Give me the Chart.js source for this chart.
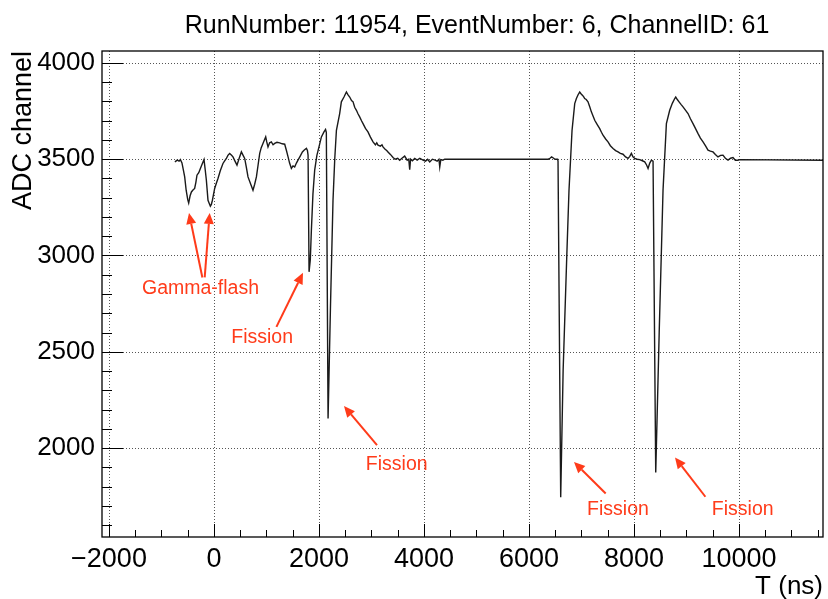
<!DOCTYPE html>
<html lang="en">
  <head>
    <meta charset="UTF-8" />
    <script src="https://cdn.jsdelivr.net/npm/chart.js@4.4.0/dist/chart.umd.min.js"></script>
    <title>ADC waveform</title>
    <style>
      html, body { margin: 0; background: #fff; }
    </style>
  </head>
  <body>
    <canvas id="myChart" width="828" height="599"></canvas>

    <script>
      // waveform (T in ns, ADC channel)
      const timeNs = [
        -745, -700, -665, -640, -610, -580, -558, -530, -500, -482, -455, -430, -400, -368, -345, -324,
        -290, -259, -225, -190, -165, -145, -114, -90, -69, -50, -30, 13, 45, 76, 120, 171, 200, 236,
        265, 299, 330, 362, 400, 438, 480, 522, 555, 585, 615, 648, 700, 743, 775, 808, 840, 871, 900,
        933, 960, 985, 1005, 1029, 1060, 1093, 1125, 1156, 1200, 1251, 1300, 1347, 1380, 1411, 1440,
        1474, 1505, 1537, 1570, 1600, 1640, 1684, 1720, 1760, 1780, 1792, 1811, 1835, 1855, 1885, 1918,
        1960, 2000, 2046, 2095, 2125, 2140, 2173, 2220, 2267, 2300, 2332, 2394, 2426, 2476, 2522, 2550,
        2585, 2620, 2649, 2680, 2713, 2745, 2775, 2810, 2839, 2885, 2933, 2980, 3029, 3075, 3100, 3124,
        3170, 3200, 3219, 3260, 3290, 3314, 3360, 3410, 3450, 3500, 3537, 3580, 3632, 3680, 3710, 3728,
        3745, 3780, 3823, 3870, 3920, 3981, 4030, 4070, 4109, 4160, 4210, 4250, 4285, 4300, 4320, 4360,
        4394, 6368, 6400, 6431, 6470, 6494, 6545, 6553, 6604, 6650, 6720, 6762, 6820, 6871, 6903, 6935,
        6966, 6990, 7017, 7040, 7061, 7090, 7124, 7160, 7188, 7220, 7252, 7300, 7347, 7380, 7410, 7460,
        7505, 7550, 7601, 7650, 7696, 7740, 7791, 7840, 7887, 7920, 7950, 7980, 8014, 8060, 8109, 8160,
        8204, 8240, 8268, 8300, 8331, 8363, 8414, 8480, 8553, 8617, 8680, 8730, 8776, 8795, 8825, 8858,
        8895, 8934, 8980, 9029, 9075, 9124, 9170, 9220, 9265, 9315, 9360, 9410, 9455, 9505, 9550, 9600,
        9650, 9695, 9740, 9791, 9840, 9886, 9930, 9981, 10010, 11600
      ];
      const adc = [
        3486, 3495, 3490, 3498, 3481, 3440, 3408, 3339, 3290, 3273, 3310, 3330, 3340, 3348, 3380, 3417,
        3430, 3452, 3475, 3498, 3440, 3391, 3287, 3270, 3256, 3265, 3287, 3348, 3375, 3400, 3440, 3478, 3490, 3504,
        3520, 3530, 3522, 3512, 3490, 3469, 3505, 3538, 3520, 3504, 3460, 3408, 3370, 3339, 3370, 3408, 3470, 3530, 3560,
        3582, 3600, 3616, 3590, 3564, 3585, 3590, 3575, 3582, 3588, 3585, 3580, 3578, 3545, 3512, 3480,
        3452, 3465, 3460, 3480, 3495, 3515, 3538, 3548, 3556, 3545, 3521, 2915, 2980, 3131, 3320, 3443,
        3520, 3564, 3616, 3642, 3655, 3640, 2154, 2750, 3287, 3500, 3650, 3737, 3798, 3823, 3849, 3835,
        3823, 3805, 3798, 3770, 3754, 3735, 3720, 3700, 3685, 3660, 3642, 3615, 3590, 3575, 3585, 3573,
        3568, 3575, 3564, 3552, 3545, 3538, 3525, 3509, 3500, 3505, 3495, 3505, 3516, 3495, 3500, 3445,
        3500, 3492, 3504, 3495, 3505, 3495, 3490, 3500, 3486, 3500, 3495, 3490, 3500, 3460, 3498, 3495,
        3500, 3500, 3505, 3512, 3505, 3500, 3500, 3490, 1744, 2400, 3000, 3339, 3650, 3789, 3815, 3835,
        3849, 3840, 3832, 3825, 3815, 3810, 3798, 3770, 3746, 3725, 3702, 3680, 3659, 3640, 3625, 3605,
        3590, 3570, 3556, 3545, 3538, 3530, 3526, 3512, 3504, 3515, 3530, 3512, 3504, 3500, 3498, 3492,
        3486, 3470, 3452, 3480, 3495, 3490, 1873, 2600, 3339, 3685, 3754, 3790, 3815, 3823, 3810, 3798,
        3785, 3772, 3755, 3737, 3710, 3685, 3660, 3633, 3610, 3590, 3570, 3547, 3542, 3538, 3525, 3512,
        3520, 3521, 3505, 3495, 3505, 3509, 3495, 3495, 3498, 3495
      ];

      const xTicks = [-2000, 0, 2000, 4000, 6000, 8000, 10000];
      const yTicks = [2000, 2500, 3000, 3500, 4000];

      // red arrows (tip -> tail) and notes, in data units
      const arrowTipX = [-476, -82, 1695, 2476, 6857, 8781];
      const arrowTipY = [3221, 3221, 2910, 2218, 1928, 1951];
      const arrowTailX = [-221, -177, 1189, 3105, 7461, 9360];
      const arrowTailY = [2886, 2886, 2629, 2015, 1764, 1747];
      const noteText = ["Gamma-flash", "Fission", "Fission", "Fission", "Fission"];
      const noteX = [-257, 918, 3480, 7695, 10071];
      const noteY = [2799, 2543, 1885, 1652, 1652];

      const FONT = '"Liberation Sans", Arial, Helvetica, sans-serif';
      const RED = "#ff3b1a";

      const rootFrame = {
        id: "rootFrame",
        beforeDatasetsDraw(chart) {
          const { ctx, chartArea: a, scales: { x, y } } = chart;
          ctx.save();
          ctx.strokeStyle = "#555";
          ctx.lineWidth = 1;
          ctx.setLineDash([1, 2]);
          ctx.beginPath();
          xTicks.forEach((v) => {
            const px = Math.round(x.getPixelForValue(v)) + 0.5;
            ctx.moveTo(px, a.top);
            ctx.lineTo(px, a.bottom);
          });
          yTicks.forEach((v) => {
            const py = Math.round(y.getPixelForValue(v)) + 0.5;
            ctx.moveTo(a.left, py);
            ctx.lineTo(a.right, py);
          });
          ctx.stroke();
          ctx.restore();
        },
        afterDatasetsDraw(chart) {
          const { ctx, chartArea: a, scales: { x, y } } = chart;
          ctx.save();
          // frame
          ctx.strokeStyle = "#000";
          ctx.lineWidth = 1.3;
          ctx.strokeRect(a.left, a.top, a.right - a.left, a.bottom - a.top);

          // ticks, drawn inside the frame
          ctx.lineWidth = 1;
          ctx.beginPath();
          for (let v = -2000; v <= x.max; v += 500) {
            const px = Math.round(x.getPixelForValue(v)) + 0.5;
            const len = v % 2000 === 0 ? 13 : 7;
            ctx.moveTo(px, a.bottom);
            ctx.lineTo(px, a.bottom - len);
          }
          for (let v = 1600; v <= y.max; v += 100) {
            const py = Math.round(y.getPixelForValue(v)) + 0.5;
            const len = v % 500 === 0 ? 21 : 10;
            ctx.moveTo(a.left, py);
            ctx.lineTo(a.left + len, py);
          }
          ctx.stroke();

          // annotation arrows
          ctx.strokeStyle = RED;
          ctx.fillStyle = RED;
          ctx.lineWidth = 2;
          arrowTipX.forEach((tx, i) => {
            const x1 = x.getPixelForValue(arrowTailX[i]);
            const y1 = y.getPixelForValue(arrowTailY[i]);
            const x2 = x.getPixelForValue(tx);
            const y2 = y.getPixelForValue(arrowTipY[i]);
            const ang = Math.atan2(y2 - y1, x2 - x1);
            const head = 11;
            const bx = x2 - head * Math.cos(ang);
            const by = y2 - head * Math.sin(ang);
            ctx.beginPath();
            ctx.moveTo(x1, y1);
            ctx.lineTo(bx, by);
            ctx.stroke();
            ctx.beginPath();
            ctx.moveTo(x2, y2);
            ctx.lineTo(bx + 5 * Math.sin(ang), by - 5 * Math.cos(ang));
            ctx.lineTo(bx - 5 * Math.sin(ang), by + 5 * Math.cos(ang));
            ctx.closePath();
            ctx.fill();
          });
          ctx.font = "19.5px " + FONT;
          ctx.textAlign = "center";
          ctx.textBaseline = "alphabetic";
          noteText.forEach((t, i) => {
            ctx.fillText(t, x.getPixelForValue(noteX[i]), y.getPixelForValue(noteY[i]));
          });

          // title and axis titles
          ctx.fillStyle = "#000";
          ctx.font = "25px " + FONT;
          ctx.fillText("RunNumber: 11954, EventNumber: 6, ChannelID: 61", 477, 33);
          ctx.font = "26px " + FONT;
          ctx.textAlign = "right";
          ctx.fillText("T (ns)", a.right, 594);
          ctx.font = "27px " + FONT;
          ctx.translate(31, a.top);
          ctx.rotate(-Math.PI / 2);
          ctx.fillText("ADC channel", 0, 0);
          ctx.restore();
        },
      };

      const ctx = document.getElementById("myChart").getContext("2d");
      const myChart = new Chart(ctx, {
        type: "line",
        data: {
          datasets: [
            {
              data: timeNs.map((t, i) => ({ x: t, y: adc[i] })),
              borderColor: "#1a1a1a",
              borderWidth: 1.4,
              pointRadius: 0,
              tension: 0,
              fill: false,
            },
          ],
        },
        options: {
          responsive: false,
          animation: false,
          layout: { padding: { top: 51, right: 5, left: 0, bottom: 0 } },
          plugins: { legend: { display: false }, tooltip: { enabled: false } },
          scales: {
            x: {
              type: "linear",
              min: -2133,
              max: 11600,
              afterBuildTicks: (s) => { s.ticks = xTicks.map((v) => ({ value: v })); },
              afterFit: (s) => { s.height = 62; },
              grid: { display: false, drawTicks: false },
              border: { display: false },
              ticks: {
                color: "#000",
                font: { size: 27, family: FONT },
                padding: 6,
                maxRotation: 0,
                autoSkip: false,
                callback: (v) => (v < 0 ? "\u2212" + -v : String(v)),
              },
            },
            y: {
              type: "linear",
              min: 1538,
              max: 4062,
              afterBuildTicks: (s) => { s.ticks = yTicks.map((v) => ({ value: v })); },
              afterFit: (s) => { s.width = 102; },
              grid: { display: false, drawTicks: false },
              border: { display: false },
              ticks: {
                color: "#000",
                font: { size: 26, family: FONT },
                padding: 7,
                autoSkip: false,
                callback: (v) => String(v),
              },
            },
          },
        },
        plugins: [rootFrame],
      });
    </script>
  </body>
</html>
